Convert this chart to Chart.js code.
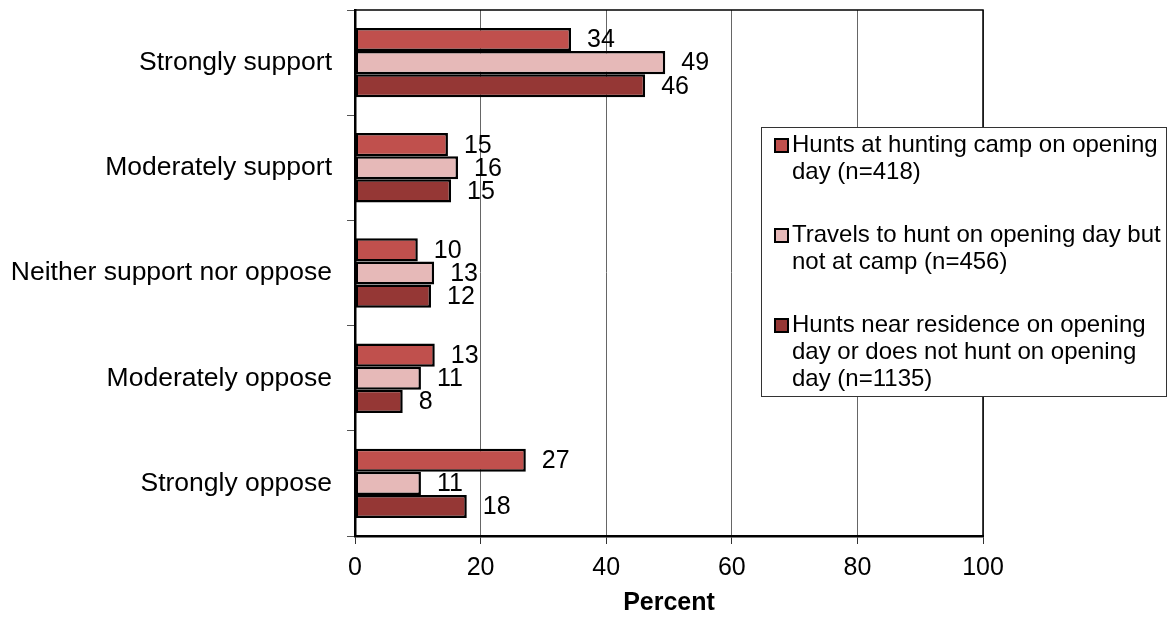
<!DOCTYPE html>
<html>
<head>
<meta charset="utf-8">
<script src="https://cdn.jsdelivr.net/npm/chart.js@4"></script>
<style>
  html, body { margin: 0; padding: 0; background: #fff; }
  #wrap { width: 1169px; height: 618px; position: relative; }
</style>
</head>
<body>
<div id="wrap"><canvas id="c" width="1169" height="618"></canvas></div>
<script>
const categories = ["Strongly support", "Moderately support", "Neither support nor oppose", "Moderately oppose", "Strongly oppose"];
const seriesNames = [
  ["Hunts at hunting camp on opening", "day (n=418)"],
  ["Travels to hunt on opening day but", "not at camp (n=456)"],
  ["Hunts near residence on opening", "day or does not hunt on opening", "day (n=1135)"]
];
const campValues = [34.4, 14.8, 10.0, 12.7, 27.2];
const travelValues = [49.4, 16.4, 12.6, 10.5, 10.5];
const nearValues = [46.2, 15.3, 12.1, 7.6, 17.8];
const xTicks = [0, 20, 40, 60, 80, 100];
const colors = ["#C0504D", "#E6B9B8", "#953735"];

const FONT = "'Liberation Sans', Arial, sans-serif";

const dataLabels = {
  id: 'dataLabels',
  afterDatasetsDraw(chart) {
    const ctx = chart.ctx;
    ctx.save();
    ctx.font = "25px " + FONT;
    ctx.fillStyle = "#000";
    ctx.textAlign = "left";
    ctx.textBaseline = "middle";
    chart.data.datasets.forEach((ds, i) => {
      const meta = chart.getDatasetMeta(i);
      meta.data.forEach((el, j) => {
        ctx.fillText(String(Math.round(ds.data[j])), el.x + 16, el.y + 1);
      });
    });
    ctx.restore();
  }
};

const frame = {
  id: 'frame',
  afterDatasetsDraw(chart) {
    const a = chart.chartArea;
    const ctx = chart.ctx;
    ctx.save();
    ctx.strokeStyle = "#000";
    ctx.lineWidth = 1.5;
    ctx.beginPath();
    ctx.moveTo(a.left, a.top);
    ctx.lineTo(a.right, a.top);
    ctx.lineTo(a.right, a.bottom);
    ctx.stroke();
    ctx.restore();
  }
};

const legendBox = {
  id: 'legendBox',
  afterDraw(chart) {
    const ctx = chart.ctx;
    ctx.save();
    const bx = 761, by = 127, bw = 405, bh = 269;
    ctx.fillStyle = "#fff";
    ctx.fillRect(bx, by, bw, bh);
    ctx.strokeStyle = "#333";
    ctx.lineWidth = 1;
    ctx.strokeRect(bx + 0.5, by + 0.5, bw, bh);
    ctx.font = "24px " + FONT;
    ctx.textAlign = "left";
    ctx.textBaseline = "middle";
    const starts = [145, 235, 325];
    seriesNames.forEach((lines, i) => {
      const y0 = starts[i];
      ctx.fillStyle = colors[i];
      ctx.fillRect(775, y0 - 6, 13, 13);
      ctx.strokeStyle = "#000";
      ctx.lineWidth = 2;
      ctx.strokeRect(775, y0 - 6, 13, 13);
      ctx.fillStyle = "#000";
      lines.forEach((t, k) => ctx.fillText(t, 792, y0 + k * 27));
    });
    ctx.restore();
  }
};

const datasets = [campValues, travelValues, nearValues].map((vals, i) => ({
  label: seriesNames[i].join(" "),
  data: vals,
  backgroundColor: colors[i],
  borderColor: "#000",
  borderWidth: 2.5,
  borderSkipped: false,
  categoryPercentage: 0.66,
  barPercentage: 1.0
}));

new Chart(document.getElementById('c'), {
  type: 'bar',
  data: { labels: categories, datasets },
  options: {
    indexAxis: 'y',
    responsive: false,
    animation: false,
    devicePixelRatio: 1,
    layout: { padding: { top: 10, right: 186, left: 0, bottom: 0 } },
    plugins: { legend: { display: false }, tooltip: { enabled: false } },
    scales: {
      x: {
        min: 0, max: 100,
        afterBuildTicks(scale) { scale.ticks = xTicks.map(v => ({ value: v })); },
        afterFit(scale) { scale.height = 82; scale.paddingLeft = 0; scale.paddingRight = 0; },
        grid: { color: "#666", lineWidth: 1, drawOnChartArea: true, tickLength: 8, tickColor: "#333" },
        border: { color: "#000", width: 2.5 },
        ticks: { font: { family: FONT, size: 25 }, color: "#000", padding: 9, maxRotation: 0 },
        title: { display: true, text: "Percent", font: { family: FONT, size: 25, weight: 'bold' }, color: "#000", padding: { top: 0, bottom: 0 } }
      },
      y: {
        afterFit(scale) { scale.width = 355; scale.paddingTop = 0; scale.paddingBottom = 0; },
        grid: { drawOnChartArea: false, tickLength: 8, tickColor: "#555", offset: true },
        border: { color: "#000", width: 2.5 },
        ticks: { font: { family: FONT, size: 26.5 }, color: "#000", padding: 15 }
      }
    }
  },
  plugins: [dataLabels, frame, legendBox]
});
</script>
</body>
</html>
